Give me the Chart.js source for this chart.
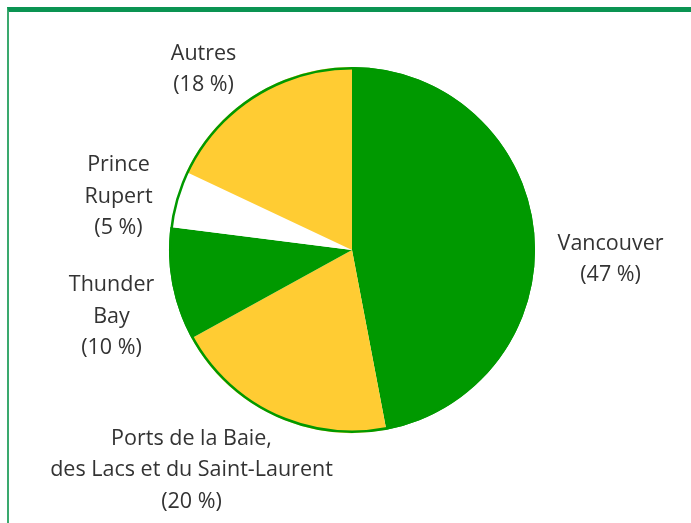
<!DOCTYPE html>
<html>
<head>
<meta charset="utf-8">
<script src="https://cdn.jsdelivr.net/npm/chart.js@4"></script>
<style>
  html, body { margin: 0; padding: 0; background: #fff; }
  #frame {
    position: absolute; left: 7px; top: 7px; width: 684px; height: 516px;
    border-top: 5px solid #0a9452; border-left: 2px solid #3aa96e;
    box-sizing: border-box;
  }
  #ports { position: absolute; left: 0; top: 0; }
</style>
</head>
<body>
<div id="frame"></div>
<canvas id="ports" width="691" height="523"></canvas>
<script>
// Répartition par port (%)
const categories = ['Vancouver', 'Ports de la Baie, des Lacs et du Saint-Laurent', 'Thunder Bay', 'Prince Rupert', 'Autres'];
const labelLines = [
  ['Vancouver'],
  ['Ports de la Baie,', 'des Lacs et du Saint-Laurent'],
  ['Thunder', 'Bay'],
  ['Prince', 'Rupert'],
  ['Autres']
];
const shares = [47, 20, 10, 5, 18];
const sliceColors = ['#009900', '#ffcc33', '#009900', '#ffffff', '#ffcc33'];

// where each label block sits, relative to the pie centre, in units of the radius
const labelPlace = [[1.413, 0.05], [-0.877, 1.203], [-1.314, 0.364], [-1.276, -0.292], [-0.811, -0.988]];

const outerRing = {
  id: 'outerRing',
  afterDatasetsDraw(chart) {
    const arc = chart.getDatasetMeta(0).data[0];
    const ctx = chart.ctx;
    ctx.save();
    ctx.beginPath();
    ctx.arc(arc.x, arc.y, arc.outerRadius - 1.2, 0, Math.PI * 2);
    ctx.strokeStyle = '#009900';
    ctx.lineWidth = 2.5;
    ctx.stroke();
    ctx.restore();
  }
};

const sliceLabels = {
  id: 'sliceLabels',
  afterDraw(chart) {
    const arc = chart.getDatasetMeta(0).data[0];
    const r = arc.outerRadius;
    const ctx = chart.ctx;
    const lh = 31.5;
    ctx.save();
    ctx.font = '21.5px "Open Sans"';
    ctx.fillStyle = '#333333';
    ctx.textAlign = 'center';
    ctx.textBaseline = 'middle';
    labelLines.forEach((lines, i) => {
      const all = lines.concat(['(' + shares[i] + ' %)']);
      const cx = arc.x + labelPlace[i][0] * r;
      const cy = arc.y + labelPlace[i][1] * r;
      const top = cy - (all.length - 1) * lh / 2;
      all.forEach((t, k) => ctx.fillText(t, cx, top + k * lh));
    });
    ctx.restore();
  }
};

new Chart(document.getElementById('ports'), {
  type: 'pie',
  data: {
    labels: categories,
    datasets: [{
      data: shares,
      backgroundColor: sliceColors,
      borderWidth: 0
    }]
  },
  options: {
    responsive: false,
    animation: false,
    events: [],
    layout: { padding: { top: 67, bottom: 90, left: 169, right: 156 } },
    plugins: {
      legend: { display: false },
      tooltip: { enabled: false }
    }
  },
  plugins: [outerRing, sliceLabels]
});
</script>
</body>
</html>
